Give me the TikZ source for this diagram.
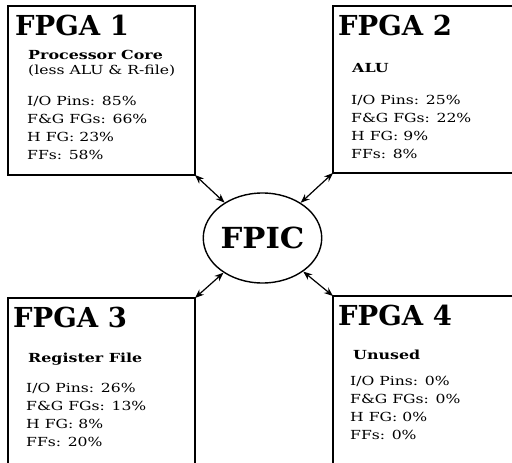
\documentclass[tikz,border=0pt]{standalone}
\usepackage{fontspec}
\setmainfont{DejaVu Serif}
\newfontfamily\bodyfont[FakeStretch=1.25]{DejaVu Serif}
\newfontfamily\subfont[FakeStretch=1.27]{DejaVu Serif}
\newfontfamily\headfont[FakeStretch=1.06]{DejaVu Serif}
\usetikzlibrary{arrows.meta,shapes.geometric}
\newcommand{\lines}[1]{\begin{tabular}[t]{@{}l@{}}#1\end{tabular}}
\begin{document}
\begin{tikzpicture}[x=1pt,y=-1pt,
  box/.style={line width=1.4pt},
  title/.style={anchor=base west, inner sep=0pt, font=\fontsize{27.5}{30}\selectfont\bfseries},
  sub/.style={anchor=base west, inner sep=0pt, font=\subfont\fontsize{12.5}{16}\selectfont},
  stats/.style={anchor=base west, inner sep=0pt, font=\bodyfont\fontsize{12.5}{18}\selectfont},
  link/.style={line width=1.2pt, {Stealth[length=9pt,width=7pt]}-{Stealth[length=9pt,width=7pt]}}]
\useasboundingbox (0,0) rectangle (512,463);
% boxes
\draw[box] (8,6) rectangle (195,175);
\draw[box] (515,6) -- (333,6) -- (333,173) -- (515,173);
\draw[box] (8,466) -- (8,298) -- (195,298) -- (195,466);
\draw[box] (333,466) -- (333,296) -- (515,296);
\coordinate (c1) at (195,175);
\coordinate (c2) at (333,173);
\coordinate (c3) at (195,298);
\coordinate (c4) at (333,296);
% FPIC
\node[draw, line width=1.4pt, ellipse, minimum width=103pt, minimum height=90pt, inner sep=0pt,
  font=\headfont\fontsize{29}{30}\selectfont\bfseries] (fpic) at (262.5,238) {FPIC};
\draw[link] (c1) -- (fpic);
\draw[link] (c2) -- (fpic);
\draw[link] (c3) -- (fpic);
\draw[link] (c4) -- (fpic);
% FPGA 1
\node[title] (t1) at (15,35) {FPGA 1};
\node[sub] (s1) at (28,59) {\lines{\textbf{Processor Core}\\{\bodyfont(less ALU \& R-file)}}};
\node[stats] (d1) at (27,105) {\lines{I/O Pins: 85\%\\F\&G FGs: 66\%\\H FG: 23\%\\FFs: 58\%}};
% FPGA 2
\node[title] (t2) at (338,35) {FPGA 2};
\node[sub] (s2) at (352,72) {\textbf{ALU}};
\node[stats] (d2) at (351,104) {\lines{I/O Pins: 25\%\\F\&G FGs: 22\%\\H FG: 9\%\\FFs: 8\%}};
% FPGA 3
\node[title] (t3) at (13,327) {FPGA 3};
\node[sub] (s3) at (28,362) {\textbf{Register File}};
\node[stats] (d3) at (26,392) {\lines{I/O Pins: 26\%\\F\&G FGs: 13\%\\H FG: 8\%\\FFs: 20\%}};
% FPGA 4
\node[title] (t4) at (338,325) {FPGA 4};
\node[sub] (s4) at (353,359) {\textbf{Unused}};
\node[stats] (d4) at (350,385) {\lines{I/O Pins: 0\%\\F\&G FGs: 0\%\\H FG: 0\%\\FFs: 0\%}};
\end{tikzpicture}
\end{document}
